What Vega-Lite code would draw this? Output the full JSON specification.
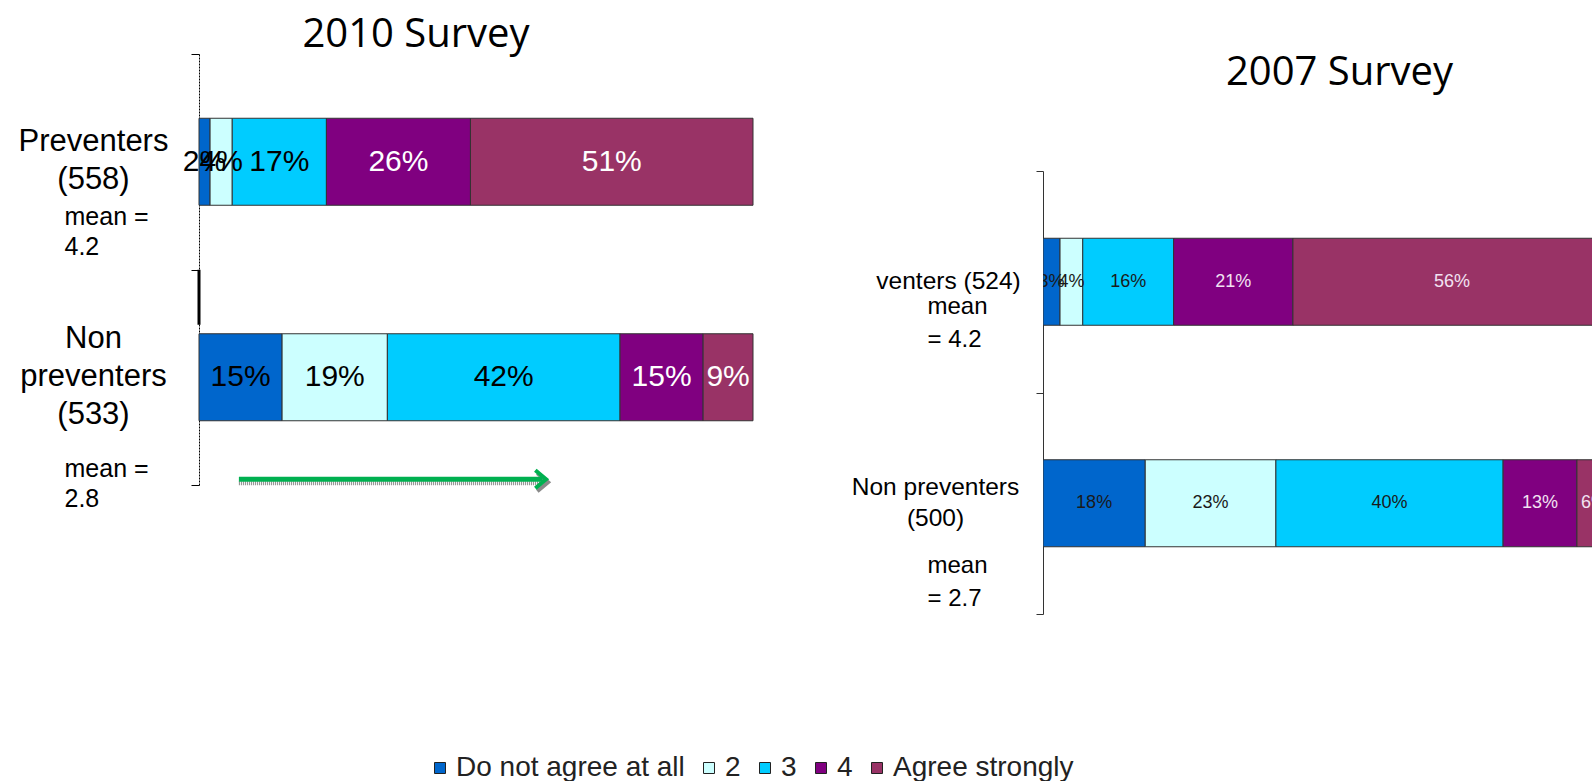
{
  "$schema": "https://vega.github.io/schema/vega-lite/v6.json",
  "background": "white",
  "padding": {"left": 18, "top": 15, "right": 0, "bottom": 0},
  "bounds": "flush",
  "spacing": 290,
  "config": {"view": {"stroke": null}, "font": "Liberation Sans"},
  "datasets": {
    "bars": [
      {"survey": "2010", "group": "Preventers|(558)", "level": "Do not agree at all", "rank": 1, "pct": 2},
      {"survey": "2010", "group": "Preventers|(558)", "level": "2", "rank": 2, "pct": 4},
      {"survey": "2010", "group": "Preventers|(558)", "level": "3", "rank": 3, "pct": 17},
      {"survey": "2010", "group": "Preventers|(558)", "level": "4", "rank": 4, "pct": 26},
      {"survey": "2010", "group": "Preventers|(558)", "level": "Agree strongly", "rank": 5, "pct": 51},
      {"survey": "2010", "group": "Non|preventers|(533)", "level": "Do not agree at all", "rank": 1, "pct": 15},
      {"survey": "2010", "group": "Non|preventers|(533)", "level": "2", "rank": 2, "pct": 19},
      {"survey": "2010", "group": "Non|preventers|(533)", "level": "3", "rank": 3, "pct": 42},
      {"survey": "2010", "group": "Non|preventers|(533)", "level": "4", "rank": 4, "pct": 15},
      {"survey": "2010", "group": "Non|preventers|(533)", "level": "Agree strongly", "rank": 5, "pct": 9},
      {"survey": "2007", "group": "venters (524)", "level": "Do not agree at all", "rank": 1, "pct": 3},
      {"survey": "2007", "group": "venters (524)", "level": "2", "rank": 2, "pct": 4},
      {"survey": "2007", "group": "venters (524)", "level": "3", "rank": 3, "pct": 16},
      {"survey": "2007", "group": "venters (524)", "level": "4", "rank": 4, "pct": 21},
      {"survey": "2007", "group": "venters (524)", "level": "Agree strongly", "rank": 5, "pct": 56},
      {"survey": "2007", "group": "Non preventers|(500)", "level": "Do not agree at all", "rank": 1, "pct": 18},
      {"survey": "2007", "group": "Non preventers|(500)", "level": "2", "rank": 2, "pct": 23},
      {"survey": "2007", "group": "Non preventers|(500)", "level": "3", "rank": 3, "pct": 40},
      {"survey": "2007", "group": "Non preventers|(500)", "level": "4", "rank": 4, "pct": 13},
      {"survey": "2007", "group": "Non preventers|(500)", "level": "Agree strongly", "rank": 5, "pct": 6}
    ],
    "arrow": [{"group": "Non|preventers|(533)", "start": 7.2, "end": 62}],
    "marker": [{"group": "Non|preventers|(533)", "x": 0}]
  },
  "hconcat": [
    {
      "width": 554,
      "height": 431,
      "title": {"text": "2010 Survey", "font": "Open Sans", "fontSize": 40, "fontWeight": "normal", "color": "#000", "anchor": "middle", "dx": -60, "dy": 60, "baseline": "alphabetic", "offset": 11},
      "layer": [
        {
          "data": {"name": "bars"},
          "transform": [
            {"filter": "datum.survey == '2010'"},
            {"stack": "pct", "groupby": ["group"], "sort": [{"field": "rank", "order": "ascending"}], "as": ["x0", "x1"]}
          ],
          "mark": {"type": "bar", "size": 87, "stroke": "#333", "strokeWidth": 1},
          "encoding": {
            "y": {"field": "group", "type": "nominal",
              "scale": {"domain": ["Preventers|(558)", "Non|preventers|(533)"], "paddingInner": 0, "paddingOuter": 0},
              "axis": {"orient": "left", "title": null, "domainColor": "#000", "domainDash": [2, 1], "domainWidth": 1,
                "ticks": true, "tickBand": "extent", "tickSize": 8, "tickColor": "#000", "tickWidth": 1,
                "labelAlign": "center", "labelBaseline": "middle", "labelPadding": 98, "labelFontSize": 31, "labelLineHeight": 38,
                "labelExpr": "split(datum.label, '|')", "labelLimit": 0, "labelColor": "#000", "labelFont": "Liberation Sans",
                "labelOffset": {"condition": {"test": "datum.value == 'Preventers|(558)'", "value": -20}, "value": -39}}},
            "x": {"field": "x0", "type": "quantitative", "scale": {"domain": [0, 100]}, "axis": null},
            "x2": {"field": "x1"},
            "color": {"field": "level", "type": "nominal",
              "scale": {"domain": ["Do not agree at all", "2", "3", "4", "Agree strongly"], "range": ["#0066CC", "#CCFFFF", "#00CCFF", "#800080", "#993366"]},
              "legend": {"orient": "none", "legendX": 227, "legendY": 700, "direction": "horizontal", "title": null, "symbolType": "square", "symbolSize": 121,
                "labelFontSize": 28, "labelFont": "Liberation Sans", "labelColor": "#222", "labelLimit": 0, "columnPadding": 10, "labelOffset": 2, "symbolStrokeColor": "#222", "symbolStrokeWidth": 1}}
          }
        },
        {
          "data": {"name": "bars"},
          "transform": [
            {"filter": "datum.survey == '2010'"},
            {"stack": "pct", "groupby": ["group"], "sort": [{"field": "rank", "order": "ascending"}], "as": ["x0", "x1"]},
            {"calculate": "(datum.x0 + datum.x1) / 2", "as": "mid"},
            {"calculate": "datum.pct + '%'", "as": "label"}
          ],
          "mark": {"type": "text", "fontSize": 30, "font": "Liberation Sans", "baseline": "middle", "align": "center"},
          "encoding": {
            "y": {"field": "group", "type": "nominal", "axis": null},
            "x": {"field": "mid", "type": "quantitative", "scale": {"domain": [0, 100]}},
            "text": {"field": "label"},
            "color": {"condition": {"test": "datum.rank >= 4", "value": "#ffffff"}, "value": "#000000"}
          }
        },
        {
          "data": {"name": "marker"},
          "mark": {"type": "tick", "color": "#000", "size": 55, "thickness": 3, "yOffset": -80, "opacity": 1},
          "encoding": {
            "y": {"field": "group", "type": "nominal",
              "axis": {"orient": "left", "title": null, "domain": false, "ticks": false, "labelAlign": "left", "labelBaseline": "middle", "labelPadding": 135,
                "labelFontSize": 25, "labelLineHeight": 30, "labelLimit": 0, "labelColor": "#000", "labelFont": "Liberation Sans",
                "labelExpr": "datum.value == 'Preventers|(558)' ? ['mean =', '4.2'] : ['mean =', '2.8']",
                "labelOffset": {"condition": {"test": "datum.value == 'Preventers|(558)'", "value": 55}, "value": 92}}},
            "x": {"field": "x", "type": "quantitative", "scale": {"domain": [0, 100]}}
          }
        },
        {
          "data": {"name": "arrow"},
          "mark": {"type": "rule", "color": "#8a8a8a", "strokeWidth": 4, "strokeDash": [1, 1], "yOffset": 106},
          "encoding": {
            "y": {"field": "group", "type": "nominal", "axis": null},
            "x": {"field": "start", "type": "quantitative", "scale": {"domain": [0, 100]}},
            "x2": {"field": "end"}
          }
        },
        {
          "data": {"name": "arrow"},
          "mark": {"type": "point", "shape": "M-0.8,-1L0.4,0L-0.8,1", "filled": false, "stroke": "#8a8a8a", "strokeWidth": 4, "size": 320, "yOffset": 105, "xOffset": 2, "opacity": 1},
          "encoding": {
            "y": {"field": "group", "type": "nominal", "axis": null},
            "x": {"field": "end", "type": "quantitative", "scale": {"domain": [0, 100]}}
          }
        },
        {
          "data": {"name": "arrow"},
          "mark": {"type": "rule", "color": "#00B050", "strokeWidth": 5, "yOffset": 102},
          "encoding": {
            "y": {"field": "group", "type": "nominal", "axis": null},
            "x": {"field": "start", "type": "quantitative", "scale": {"domain": [0, 100]}},
            "x2": {"field": "end"}
          }
        },
        {
          "data": {"name": "arrow"},
          "mark": {"type": "point", "shape": "M-0.8,-1L0.4,0L-0.8,1", "filled": false, "stroke": "#00B050", "strokeWidth": 4, "size": 320, "yOffset": 102, "opacity": 1},
          "encoding": {
            "y": {"field": "group", "type": "nominal", "axis": null},
            "x": {"field": "end", "type": "quantitative", "scale": {"domain": [0, 100]}}
          }
        }
      ],
      "resolve": {"axis": {"y": "independent"}}
    },
    {
      "width": 549,
      "height": 560,
      "title": {"text": "2007 Survey", "font": "Open Sans", "fontSize": 40, "fontWeight": "normal", "color": "#000", "anchor": "middle", "dx": 22, "dy": 84, "baseline": "alphabetic", "offset": 0},
      "layer": [
        {
          "data": {"name": "bars"},
          "transform": [
            {"filter": "datum.survey == '2007'"},
            {"stack": "pct", "groupby": ["group"], "sort": [{"field": "rank", "order": "ascending"}], "as": ["x0", "x1"]}
          ],
          "mark": {"type": "bar", "size": 87, "stroke": "#333", "strokeWidth": 1, "clip": true},
          "encoding": {
            "y": {"field": "group", "type": "nominal",
              "scale": {"domain": ["venters (524)", "Non preventers|(500)"], "range": [117, 560], "paddingInner": 0, "paddingOuter": 0},
              "axis": {"orient": "left", "title": null, "domainColor": "#333", "domainWidth": 1,
                "ticks": true, "tickBand": "extent", "tickSize": 7, "tickColor": "#333", "tickWidth": 1,
                "labelAlign": "center", "labelBaseline": "middle", "labelFontSize": 24.5, "labelLineHeight": 31,
                "labelPadding": {"condition": {"test": "datum.value == 'venters (524)'", "value": 88}, "value": 101},
                "labelExpr": "split(datum.label, '|')", "labelLimit": 0, "labelColor": "#000", "labelFont": "Liberation Sans",
                "labelOffset": {"condition": {"test": "datum.value == 'venters (524)'", "value": 0}, "value": -16}}},
            "x": {"field": "x0", "type": "quantitative", "scale": {"domain": [0, 96.65]}, "axis": null},
            "x2": {"field": "x1"},
            "color": {"field": "level", "type": "nominal",
              "scale": {"domain": ["Do not agree at all", "2", "3", "4", "Agree strongly"], "range": ["#0066CC", "#CCFFFF", "#00CCFF", "#800080", "#993366"]},
              "legend": {"orient": "none", "legendX": 227, "legendY": 700, "direction": "horizontal", "title": null, "symbolType": "square", "symbolSize": 121,
                "labelFontSize": 28, "labelFont": "Liberation Sans", "labelColor": "#222", "labelLimit": 0, "columnPadding": 10, "labelOffset": 2, "symbolStrokeColor": "#222", "symbolStrokeWidth": 1}}
          }
        },
        {
          "data": {"name": "bars"},
          "transform": [
            {"filter": "datum.survey == '2007'"},
            {"stack": "pct", "groupby": ["group"], "sort": [{"field": "rank", "order": "ascending"}], "as": ["x0", "x1"]},
            {"calculate": "(datum.x0 + datum.x1) / 2", "as": "mid"},
            {"calculate": "datum.pct + '%'", "as": "label"}
          ],
          "mark": {"type": "text", "fontSize": 18, "font": "Liberation Sans", "baseline": "middle", "align": "center", "clip": true},
          "encoding": {
            "y": {"field": "group", "type": "nominal",
              "axis": {"orient": "left", "title": null, "domain": false, "ticks": false, "labelAlign": "left", "labelBaseline": "middle", "labelPadding": 116,
                "labelFontSize": 24, "labelLineHeight": 33, "labelLimit": 0, "labelColor": "#000", "labelFont": "Liberation Sans",
                "labelExpr": "datum.value == 'venters (524)' ? ['mean', '= 4.2'] : ['mean', '= 2.7']",
                "labelOffset": {"condition": {"test": "datum.value == 'venters (524)'", "value": 25}, "value": 63}}},
            "x": {"field": "mid", "type": "quantitative", "scale": {"domain": [0, 96.65]}},
            "text": {"field": "label"},
            "color": {"condition": {"test": "datum.rank >= 4", "value": "#f2e2f2"}, "value": "#1a1a1a"}
          }
        }
      ],
      "resolve": {"axis": {"y": "independent"}}
    }
  ]
}
